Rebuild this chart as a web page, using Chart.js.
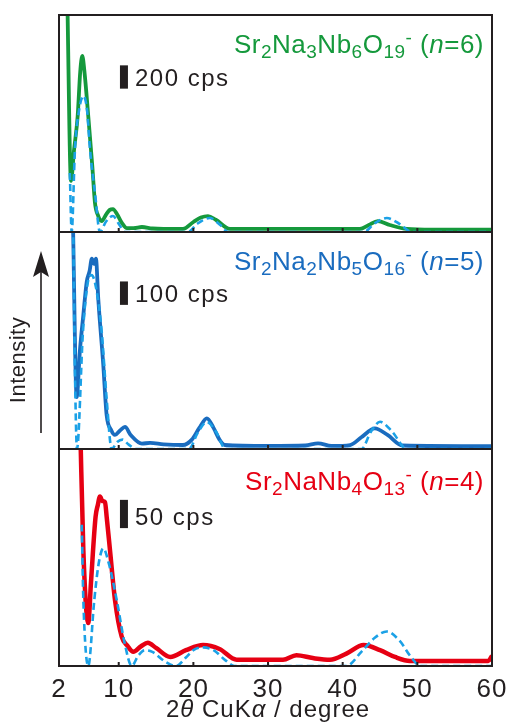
<!DOCTYPE html>
<html>
<head>
<meta charset="utf-8">
<script src="https://cdn.jsdelivr.net/npm/chart.js@4.4.0/dist/chart.umd.min.js"></script>
<style>
body { margin: 0; background: #fff; }
#wrap { position: relative; width: 511px; height: 724px; }
#wrap canvas { position: absolute; left: 0; top: 0; }
</style>
</head>
<body>
<div id="wrap">
  <canvas id="c6" width="511" height="724"></canvas>
  <canvas id="c5" width="511" height="724"></canvas>
  <canvas id="c4" width="511" height="724"></canvas>
</div>
<script>
var xTicks = [2, 10, 20, 30, 40, 50, 60];
var innerTicks = [10, 20, 30, 40, 50];

// n=6, measured (cps)
var n6X = [3.1, 3.61, 4.0, 4.5, 4.85, 5.12, 5.4, 5.92, 6.46, 6.82, 7.26, 7.72, 8.3, 8.8, 9.23, 9.8, 10.4, 11.1, 12.0, 13.1, 14.5, 16.0, 18.6, 20.0, 21.0, 21.96, 23.0, 24.9, 30.0, 35.0, 42.3, 43.5, 44.7, 46.3, 48.6, 52.0, 60.0];
var n6Y = [2050, 438, 695, 995, 1381, 1510, 1381, 995, 566, 249, 137, 94, 150, 190, 197, 150, 80, 34, 34, 43, 30, 26, 26, 86, 125, 137, 105, 26, 26, 26, 26, 60, 94, 60, 26, 20, 20];
// n=6, simulated
var n6SimX = [3.45, 3.7, 4.14, 4.7, 5.28, 5.75, 6.15, 6.82, 7.49, 8.3, 9.23, 10.1, 10.8, 19.3, 20.5, 22.2, 23.6, 24.7, 42.8, 44.3, 45.9, 47.6, 49.3, 60];
var n6SimY = [506, 0, 712, 1050, 1167, 1050, 712, 335, 0, 90, 137, 60, 0, 0, 70, 120, 60, 0, 0, 75, 120, 70, 0, 0];

// n=5
var n5X = [3.85, 4.37, 4.8, 5.26, 5.71, 6.1, 6.4, 6.7, 6.95, 7.26, 7.93, 8.38, 9.0, 9.5, 10.2, 10.84, 11.6, 13.1, 14.2, 16.0, 18.6, 19.8, 20.8, 21.8, 22.7, 23.5, 24.2, 30.0, 35.0, 36.7, 38.5, 41.0, 42.5, 44.3, 46.0, 48.0, 60.0];
var n5Y = [1000, 222, 420, 572, 713, 760, 812, 790, 812, 641, 359, 145, 80, 60, 80, 94, 60, 23, 26, 20, 17, 40, 90, 131, 90, 40, 17, 13, 15, 24, 13, 17, 50, 88, 60, 15, 12];
var n5SimX = [3.9, 4.14, 4.41, 5.21, 5.8, 6.37, 6.95, 7.72, 8.38, 9.06, 9.8, 10.5, 11.3, 12.3, 19.4, 20.6, 21.8, 23.1, 24.3, 42.5, 43.8, 45.0, 46.6, 48.6, 60];
var n5SimY = [950, 329, 0, 500, 700, 742, 690, 500, 215, 0, 30, 40, 20, 0, 0, 70, 115, 70, 0, 0, 75, 116, 75, 0, 0];

// n=4
var n4X = [4.85, 5.26, 5.92, 6.28, 6.9, 7.2, 7.49, 7.8, 8.16, 8.4, 8.83, 9.5, 10.4, 11.2, 11.95, 13.0, 13.9, 15.0, 16.9, 19.0, 21.3, 23.5, 25.8, 32.0, 33.8, 36.0, 38.3, 40.5, 42.8, 45.0, 47.0, 49.0, 59.5, 60.0];
var n4Y = [420, 205, 76, 147, 264, 285, 300, 292, 290, 262, 205, 117, 52, 35, 25, 35, 41, 32, 16, 28, 37, 30, 11, 11, 19, 14, 11, 22, 37, 28, 16, 9, 9, 18];
var n4SimX = [5.05, 5.26, 5.92, 6.73, 7.3, 7.93, 8.7, 9.73, 10.8, 11.74, 12.6, 13.5, 14.5, 16.2, 17.7, 19.0, 20.0, 21.3, 22.7, 24.3, 25.5, 40.5, 42.5, 44.3, 45.9, 47.6, 49.2, 50.4, 60];
var n4SimY = [250, 117, 0, 117, 180, 208, 180, 117, 40, 0, 18, 28, 25, 8, 0, 15, 28, 33, 28, 10, 0, 0, 25, 50, 61, 45, 15, 0, 0];

// scale bars (cps)
var barX = 10.7;
var bar6 = [1230, 1430];
var bar5 = [615, 715];
var bar4 = [244, 294];

var fontName = '"Liberation Sans", Arial, sans-serif';
var ink = '#231f20';

function pts(xs, ys) {
  return xs.map(function (x, i) { return { x: x, y: ys[i] }; });
}

function drawRich(ctx, parts, x, y, color, size, align) {
  var sub = Math.round(size * 0.72);
  var fonts = { n: size + 'px ' + fontName, it: 'italic ' + size + 'px ' + fontName, sub: sub + 'px ' + fontName, sup: sub + 'px ' + fontName };
  var off = { n: 0, it: 0, sub: 5, sup: -9 };
  var w = 0;
  parts.forEach(function (p) { ctx.font = fonts[p[1]]; w += ctx.measureText(p[0]).width; });
  if (align == 'right') x = x - w;
  if (align == 'center') x = x - w / 2;
  ctx.fillStyle = color;
  ctx.textAlign = 'left';
  ctx.textBaseline = 'alphabetic';
  parts.forEach(function (p) {
    ctx.font = fonts[p[1]];
    ctx.fillText(p[0], x, y + off[p[1]]);
    x += ctx.measureText(p[0]).width;
  });
}

var panelPlugin = {
  id: 'panel',
  beforeDraw: function (chart) {
    chart.ctx.letterSpacing = '1px';
  },
  afterDatasetsDraw: function (chart, args, opts) {
    var ctx = chart.ctx, a = chart.chartArea, xs = chart.scales.x, ys = chart.scales.y;
    ctx.save();
    ctx.strokeStyle = ink;
    ctx.lineWidth = 2;
    ctx.strokeRect(a.left, a.top, a.right - a.left, a.bottom - a.top);
    innerTicks.forEach(function (v) {
      var px = xs.getPixelForValue(v);
      ctx.beginPath();
      ctx.moveTo(px, a.bottom);
      ctx.lineTo(px, a.bottom - 4);
      ctx.stroke();
    });
    ctx.letterSpacing = '0.5px';
    drawRich(ctx, opts.formula, a.right - 8, a.top + opts.formulaDy, opts.color, 26, 'right');
    ctx.letterSpacing = '1.5px';
    ctx.font = '24px ' + fontName;
    ctx.fillStyle = ink;
    ctx.textAlign = 'left';
    ctx.fillText(opts.cps, xs.getPixelForValue(barX) + 11, ys.getPixelForValue(opts.bar[0]) - 3);

    if (opts.axisText) {
      ctx.letterSpacing = '1px';
      drawRich(ctx, [['2', 'n'], ['θ', 'it'], [' CuK', 'n'], ['α', 'it'], [' / degree', 'n']], 268, 717, ink, 24, 'center');
      // Intensity label and arrow
      ctx.save();
      ctx.translate(25, 360);
      ctx.rotate(-Math.PI / 2);
      ctx.font = '22px ' + fontName;
      ctx.letterSpacing = '0.5px';
      ctx.textAlign = 'center';
      ctx.fillText('Intensity', 0, 0);
      ctx.restore();
      ctx.lineWidth = 1.6;
      ctx.beginPath();
      ctx.moveTo(41, 433);
      ctx.lineTo(41, 272);
      ctx.stroke();
      ctx.beginPath();
      ctx.moveTo(41, 251);
      ctx.lineTo(49, 277);
      ctx.lineTo(41, 272);
      ctx.lineTo(33, 277);
      ctx.closePath();
      ctx.fill();
    }
    ctx.restore();
  }
};

function BuildPanel(id, pad, yMax, meas, sim, bar, color, formula, formulaDy, cps, bottom) {
  var ctx = document.getElementById(id).getContext('2d');
  return new Chart(ctx, {
    type: 'line',
    data: {
      datasets: [{
        data: sim, // simulated
        borderColor: '#1ba1e6',
        borderWidth: 2.6,
        borderDash: [7, 4],
        order: 1
      }, {
        data: meas, // measured
        borderColor: color,
        borderWidth: bottom ? 4.5 : 3.8,
        order: 2
      }, {
        data: [{ x: barX, y: bar[0] }, { x: barX, y: bar[1] }],
        borderColor: ink,
        borderWidth: 8,
        borderCapStyle: 'butt',
        order: 0
      }]
    },
    options: {
      responsive: false,
      animation: false,
      events: [],
      layout: { padding: pad },
      elements: {
        point: { radius: 0 },
        line: { cubicInterpolationMode: 'monotone', fill: false }
      },
      scales: {
        x: {
          type: 'linear', min: 2, max: 60,
          display: bottom,
          grid: { display: false },
          border: { display: false },
          afterBuildTicks: function (s) { s.ticks = xTicks.map(function (v) { return { value: v }; }); },
          afterFit: function (s) { if (bottom) s.height = 40; },
          ticks: { color: ink, padding: 0, font: { family: fontName, size: 26 }, maxRotation: 0 }
        },
        y: { type: 'linear', min: 0, max: yMax, display: false }
      },
      plugins: {
        legend: { display: false },
        tooltip: { enabled: false },
        panel: { color: color, formula: formula, formulaDy: formulaDy, cps: cps, bar: bar, axisText: bottom }
      }
    },
    plugins: [panelPlugin]
  });
}

var green = '#15993c', blue = '#1a6cbf', red = '#e60013';

BuildPanel('c6', { left: 59, right: 19, top: 15, bottom: 492 }, 1862, pts(n6X, n6Y), pts(n6SimX, n6SimY), bar6, green,
  [['Sr', 'n'], ['2', 'sub'], ['Na', 'n'], ['3', 'sub'], ['Nb', 'n'], ['6', 'sub'], ['O', 'n'], ['19', 'sub'], ['-', 'sup'], [' (', 'n'], ['n', 'it'], ['=6)', 'n']],
  38, '200 cps', false);
BuildPanel('c5', { left: 59, right: 19, top: 232, bottom: 275 }, 926, pts(n5X, n5Y), pts(n5SimX, n5SimY), bar5, blue,
  [['Sr', 'n'], ['2', 'sub'], ['Na', 'n'], ['2', 'sub'], ['Nb', 'n'], ['5', 'sub'], ['O', 'n'], ['16', 'sub'], ['-', 'sup'], [' (', 'n'], ['n', 'it'], ['=5)', 'n']],
  38, '100 cps', false);
BuildPanel('c4', { left: 59, right: 19, top: 449, bottom: 18 }, 384, pts(n4X, n4Y), pts(n4SimX, n4SimY), bar4, red,
  [['Sr', 'n'], ['2', 'sub'], ['NaNb', 'n'], ['4', 'sub'], ['O', 'n'], ['13', 'sub'], ['-', 'sup'], [' (', 'n'], ['n', 'it'], ['=4)', 'n']],
  41, '50 cps', true);
</script>
</body>
</html>
